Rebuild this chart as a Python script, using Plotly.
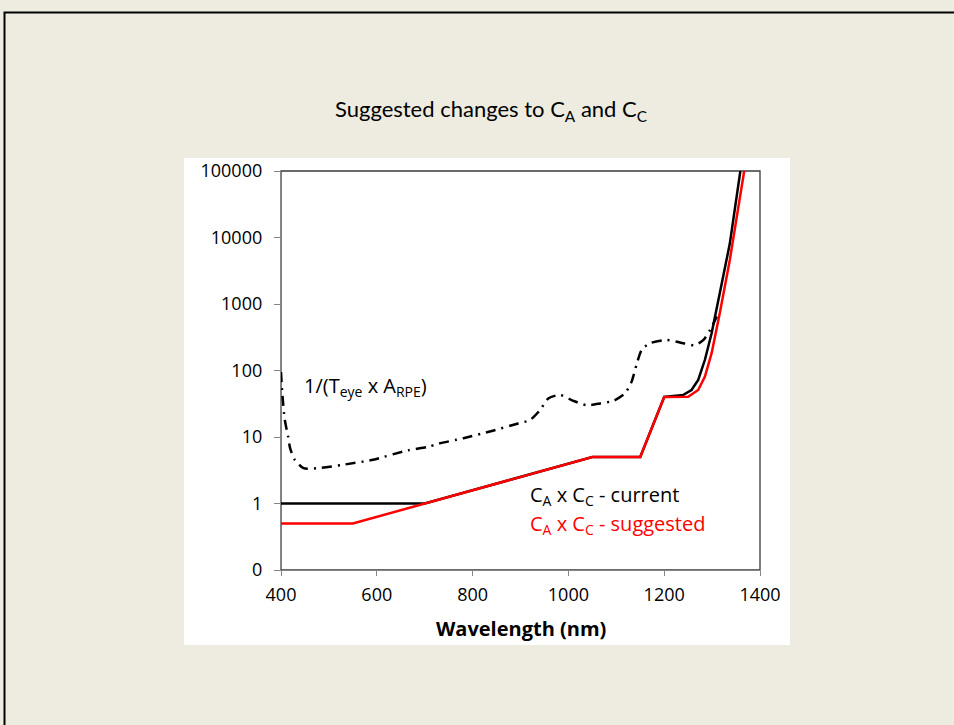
import plotly.graph_objects as go

# Wavelength grid (nm) and weighting factors
wl_current = [400, 700, 1050, 1150, 1200, 1240, 1257, 1271, 1285, 1299, 1316, 1337, 1359]
ca_cc_current = [1, 1, 5, 5, 40, 43, 51, 72, 145, 363, 1450, 8100, 100000]

wl_suggested = [400, 550, 1050, 1150, 1200, 1250, 1271, 1285, 1299, 1316, 1337, 1367]
ca_cc_suggested = [0.5, 0.5, 5, 5, 40, 40.4, 51, 81, 182, 725, 4600, 100000]

wl_eye = [400, 402.7, 408, 415, 419, 429, 447, 478, 527, 589, 665, 707, 728, 781, 840,
          895, 920, 941, 958, 982, 1010, 1038, 1066, 1094, 1118, 1132, 1143, 1153,
          1170, 1205, 1240, 1264, 1282, 1296, 1310]
inv_teye_arpe = [95, 45, 18, 10, 6.8, 4.5, 3.4, 3.4, 3.8, 4.5, 6.3, 7.1, 7.9, 9.6, 12.3,
                 16, 18, 25.5, 38, 43, 35, 30, 32, 35, 45, 68, 128, 205,
                 257, 288, 257, 240, 288, 409, 650]

y_tickvals = [0.1, 1, 10, 100, 1000, 10000, 100000]
y_ticktext = ["0", "1", "10", "100", "1000", "10000", "100000"]
x_tickvals = [400, 600, 800, 1000, 1200, 1400]

FONT = "Open Sans"
AXIS_GREY = "#868686"

fig = go.Figure()

fig.add_trace(go.Scatter(
    x=wl_eye, y=inv_teye_arpe, mode="lines",
    line=dict(color="black", width=2.5, dash="10px,6px,2px,6px", shape="spline", smoothing=0.6),
    showlegend=False, hoverinfo="skip"))

fig.add_trace(go.Scatter(
    x=wl_current, y=ca_cc_current, mode="lines",
    line=dict(color="black", width=2.5),
    showlegend=False, hoverinfo="skip"))

fig.add_trace(go.Scatter(
    x=wl_suggested, y=ca_cc_suggested, mode="lines",
    line=dict(color="#FF0000", width=2.5),
    showlegend=False, hoverinfo="skip"))

# pixel helpers for the plot domain (l=281, r=760, t=171, b=570)
L, R, T, B = 281, 760, 171, 570
def px(x):
    return (x - L) / (R - L)
def py(y):
    return (B - y) / (B - T)

shapes = [
    # white chart area
    dict(type="rect", xref="paper", yref="paper", layer="below",
         x0=px(184), x1=px(790), y0=py(645), y1=py(158),
         fillcolor="white", line=dict(width=0)),
    # plot area frame
    dict(type="rect", xref="paper", yref="paper", layer="below",
         x0=0, x1=1, y0=0, y1=1, line=dict(color="#3a3a3a", width=1.3)),
    # slide border
    dict(type="rect", xref="paper", yref="paper", layer="above",
         x0=px(4.5), x1=px(1100), y0=py(900), y1=py(12.5),
         line=dict(color="black", width=2)),
]

annotations = [
    dict(text="Suggested changes to C<sub>A</sub> and C<sub>C</sub>",
         xref="paper", yref="paper", x=px(491), y=py(110), showarrow=False,
         font=dict(family="Lato", size=22, color="black"), xanchor="center", yanchor="middle"),
    dict(text="<b>Wavelength (nm)</b>",
         xref="paper", yref="paper", x=px(520.5), y=py(628), showarrow=False,
         font=dict(family=FONT, size=20, color="black"), xanchor="center", yanchor="middle"),
    dict(text="1/(T<sub>eye</sub> x A<sub>RPE</sub>)",
         xref="paper", yref="paper", x=px(302), y=py(386), showarrow=False,
         font=dict(family=FONT, size=20, color="black"), xanchor="left", yanchor="middle"),
    dict(text="C<sub>A</sub> x C<sub>C</sub> - current",
         xref="paper", yref="paper", x=px(528), y=py(495), showarrow=False,
         font=dict(family=FONT, size=20, color="black"), xanchor="left", yanchor="middle"),
    dict(text="C<sub>A</sub> x C<sub>C</sub> - suggested",
         xref="paper", yref="paper", x=px(528), y=py(524), showarrow=False,
         font=dict(family=FONT, size=20, color="#FF0000"), xanchor="left", yanchor="middle"),
]

fig.update_layout(
    width=954, height=725,
    margin=dict(l=L, r=954 - R, t=T, b=725 - B),
    paper_bgcolor="#EEECE1",
    plot_bgcolor="white",
    shapes=shapes,
    annotations=annotations,
    font=dict(family=FONT, size=15, color="black"),
)

fig.update_xaxes(
    range=[400, 1400], tickvals=x_tickvals, showgrid=False, zeroline=False,
    showline=True, linecolor=AXIS_GREY, linewidth=1.3,
    ticks="outside", ticklen=5, tickcolor=AXIS_GREY, tickwidth=1,
    tickfont=dict(family=FONT, size=18, color="black"), ticklabelstandoff=3)

fig.update_yaxes(
    type="log", range=[-1, 5], tickvals=y_tickvals, ticktext=y_ticktext,
    showgrid=False, zeroline=False,
    showline=True, linecolor=AXIS_GREY, linewidth=1.3,
    ticks="outside", ticklen=6, tickcolor=AXIS_GREY, tickwidth=1,
    tickfont=dict(family=FONT, size=18, color="black"), ticklabelstandoff=8)

fig.write_html("out.html")
